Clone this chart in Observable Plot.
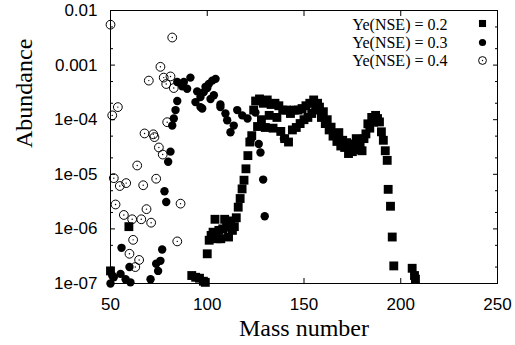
<!DOCTYPE html>
<html><head><meta charset="utf-8">
<script src="https://cdn.jsdelivr.net/npm/d3@7"></script>
<script src="https://cdn.jsdelivr.net/npm/@observablehq/plot@0.6"></script>
<style>html,body{margin:0;padding:0;background:#fff}</style>
</head><body><div id="chart"></div>
<script>
// Ye(NSE) = 0.2 (filled squares)
const massYe02 = [50,59.5,92,94,96,98,99,100,101,102,103,104,105,106,107,108,109,110,111,112,113,114,115,116,117,118,119,120,121,122,123,
  124,125,126,127,128,129,130,131,132,133,134,135,136,137,138,139,140,141,142,143,144,145,146,147,148,149,150,151,152,153,154,155,156,157,
  158,159,160,161,162,163,164,165,166,167,168,169,170,171,172,173,174,175,176,177,178,179,180,181,182,183,184,185,186,187,188,189,190,191,192,193,
  193.5,194.7,195.6,196.4,205.9,207.1,207.6];
const abundYe02 = [1.7e-7,1.1e-6,1.4e-7,1.3e-7,1.25e-7,1.1e-7,1.05e-7,3.5e-7,6.2e-7,7.6e-7,8.7e-7,1.5e-6,6.6e-7,9.4e-7,6.6e-7,1.0e-6,1.5e-6,1.07e-6,7.1e-7,1.4e-6,9.4e-7,1.1e-6,1.6e-6,2.5e-6,3.6e-6,5.4e-6,7.8e-6,1.26e-5,2.2e-5,3.9e-5,5.1e-5,
  1.5e-4,2.2e-4,7.5e-5,2.4e-4,1.0e-4,2.0e-4,7.2e-5,2.3e-4,1.2e-4,1.9e-4,7.0e-5,2.0e-4,1.1e-4,1.8e-4,6.1e-5,1.5e-4,4.5e-5,1.5e-4,3.9e-5,1.3e-4,6.5e-5,1.5e-4,7.2e-5,1.5e-4,8.5e-5,1.6e-4,1.0e-4,1.8e-4,1.1e-4,2.0e-4,1.3e-4,2.3e-4,1.5e-4,2.0e-4,
  1.7e-4,1.1e-4,1.4e-4,8.5e-5,1.0e-4,6.5e-5,7.3e-5,5.0e-5,5.5e-5,4.0e-5,5.8e-5,3.3e-5,4.2e-5,3.1e-5,3.8e-5,2.4e-5,3.5e-5,2.6e-5,3.6e-5,4.5e-5,2.8e-5,3.8e-5,2.7e-5,4.5e-5,5.5e-5,8.4e-5,7.0e-5,1.1e-4,9.0e-5,1.2e-4,1.05e-4,9.1e-5,6.0e-5,4.2e-5,2.7e-5,1.8e-5,
  5.3e-6,2.6e-6,7.1e-7,2.1e-7,1.9e-7,1.4e-7,1.2e-7];

// Ye(NSE) = 0.3 (filled circles)
const massYe03 = [50,50.9,51.7,55.2,55.7,57.8,59.8,60.3,70.7,73.6,74.6,75.8,76.7,77.9,78.8,79.8,81,81.9,82.7,83.6,84.5,84.5,87.1,87.9,89.6,91.3,
  93.9,94.8,96.5,96.5,97.4,98.2,99.1,100,100.8,101.7,102.6,103.4,104.3,106.8,106.8,109.4,110.3,112,113.7,115.5,118.1,120.8,122.4,124.9,126.6,127.5,128.9,129.7,139.6];
const abundYe03 = [1.0e-7,1.4e-7,1.3e-7,1.5e-7,4.5e-7,1.2e-7,2.0e-7,1.05e-7,1.2e-7,2.3e-7,1.7e-7,2.6e-7,4.2e-7,4.9e-6,3.1e-6,1.7e-5,2.6e-5,7.8e-5,1.05e-4,1.5e-4,2.2e-4,4.9e-4,4.1e-4,4.9e-4,3.7e-4,5.9e-4,
  2.1e-4,3.3e-4,2.6e-4,1.7e-4,1.6e-4,3.2e-4,4.0e-4,3.8e-4,4.5e-4,2.4e-4,5.2e-4,2.8e-4,5.6e-4,1.7e-4,1.9e-4,1.3e-4,9.8e-5,5.9e-5,7.8e-5,1.5e-4,1.2e-4,1.05e-4,4.2e-5,1.35e-4,3.6e-5,2.5e-5,8.0e-6,1.7e-6,4.5e-5];

// Ye(NSE) = 0.4 (open circles)
const massYe04 = [50,81.9,75.8,69.8,77.5,81,78.8,82.7,53.8,50.9,79.3,67.6,72.1,72.7,75,77,63.8,51.7,54.8,58.1,66.9,73.6,52.6,68.6,56.9,61.2,65.9,71,86.2,61.7,59.8,64.8,62.8,84.5];
const abundYe04 = [5.5e-3,3.2e-3,9.3e-4,5.2e-4,5.9e-4,6.2e-4,4.5e-4,3.8e-4,1.7e-4,1.2e-4,9e-5,5.6e-5,5.4e-5,4.8e-5,3.1e-5,2.3e-5,1.45e-5,8.5e-6,6.1e-6,6.9e-6,6.3e-6,8.3e-6,2.8e-6,2.3e-6,1.8e-6,1.5e-6,1.5e-6,1.3e-6,2.9e-6,6.3e-7,3.5e-7,2.7e-7,2.0e-7,5.9e-7];

const legendLabels = ["Ye(NSE) = 0.2", "Ye(NSE) = 0.3", "Ye(NSE) = 0.4"];
const xTicks = [50, 100, 150, 200, 250];
const yTicks = [1e-7, 1e-6, 1e-5, 1e-4, 1e-3, 1e-2];
const yTickLabels = ["1e-07", "1e-06", "1e-05", "1e-04", "0.001", "0.01"];
const yMinorTicks = [2e-7,5e-7,2e-6,5e-6,2e-5,5e-5,2e-4,5e-4,2e-3,5e-3];
const xTitle = "Mass number";
const yTitle = "Abundance";

const toRows = (m, a) => m.map((v, i) => ({mass: v, abundance: a[i]}));
const d02 = toRows(massYe02, abundYe02);
const d03 = toRows(massYe03, abundYe03);
const d04 = toRows(massYe04, abundYe04);

const serif = "'Liberation Serif', 'Times New Roman', serif";
const blank = () => "";

const chart = Plot.plot({
  width: 515, height: 345,
  marginLeft: 110, marginRight: 18, marginTop: 10, marginBottom: 62,
  style: {fontFamily: "'Liberation Sans', Arial, sans-serif", fontSize: "17px", color: "#000", background: "#fff", overflow: "visible"},
  x: {type: "linear", domain: [50, 250]},
  y: {type: "log", domain: [1e-7, 1e-2]},
  marks: [
    Plot.dot(d02, {x: "mass", y: "abundance", symbol: "square", r: 5, fill: "#000", stroke: "none"}),
    Plot.dot(d03, {x: "mass", y: "abundance", r: 4.2, fill: "#000", stroke: "none"}),
    Plot.dot(d04, {x: "mass", y: "abundance", r: 4.4, fill: "none", stroke: "#000", strokeWidth: 1}),
    Plot.dot(d04, {x: "mass", y: "abundance", r: 0.7, fill: "#000", stroke: "none"}),
    Plot.frame({stroke: "#000", strokeWidth: 1}),
    Plot.axisX({ticks: xTicks, anchor: "bottom", tickSize: -5, tickPadding: 19, label: null}),
    Plot.axisX({ticks: xTicks, anchor: "top", tickSize: -5, tickFormat: blank, label: null}),
    Plot.axisY({ticks: yTicks, anchor: "left", tickSize: -5, tickPadding: 18, label: null,
      tickFormat: d => yTickLabels[yTicks.findIndex(t => Math.abs(t - d) / t < 1e-6)]}),
    Plot.axisY({ticks: yTicks, anchor: "right", tickSize: -5, tickFormat: blank, label: null}),
    Plot.axisY({ticks: yMinorTicks, anchor: "left", tickSize: -3, tickFormat: blank, label: null}),
    Plot.axisY({ticks: yMinorTicks, anchor: "right", tickSize: -3, tickFormat: blank, label: null}),
    Plot.text([xTitle], {frameAnchor: "bottom", lineAnchor: "middle", text: d => d, dy: 45, fontFamily: serif, fontSize: 24, fill: "#000"}),
    Plot.text([yTitle], {frameAnchor: "left", lineAnchor: "middle", text: d => d, rotate: -90, dx: -86, dy: 1, fontFamily: serif, fontSize: 24, fill: "#000"}),
    ...legendLabels.map((lab, i) => Plot.text([lab], {frameAnchor: "top-right", lineAnchor: "middle", text: d => d, textAnchor: "end", dx: -50, dy: 14 + i * 18, fontFamily: serif, fontSize: 16, fill: "#000"})),
    Plot.dot([legendLabels[0]], {frameAnchor: "top-right", dx: -15, dy: 13, symbol: "square", r: 4, fill: "#000", stroke: "none"}),
    Plot.dot([legendLabels[1]], {frameAnchor: "top-right", dx: -15, dy: 32, r: 3.6, fill: "#000", stroke: "none"}),
    Plot.dot([legendLabels[2]], {frameAnchor: "top-right", dx: -15, dy: 50, r: 3.9, fill: "none", stroke: "#000", strokeWidth: 1}),
    Plot.dot([legendLabels[2]], {frameAnchor: "top-right", dx: -15, dy: 50, r: 0.7, fill: "#000", stroke: "none"})
  ]
});
document.getElementById("chart").appendChild(chart);
</script>
</body></html>
